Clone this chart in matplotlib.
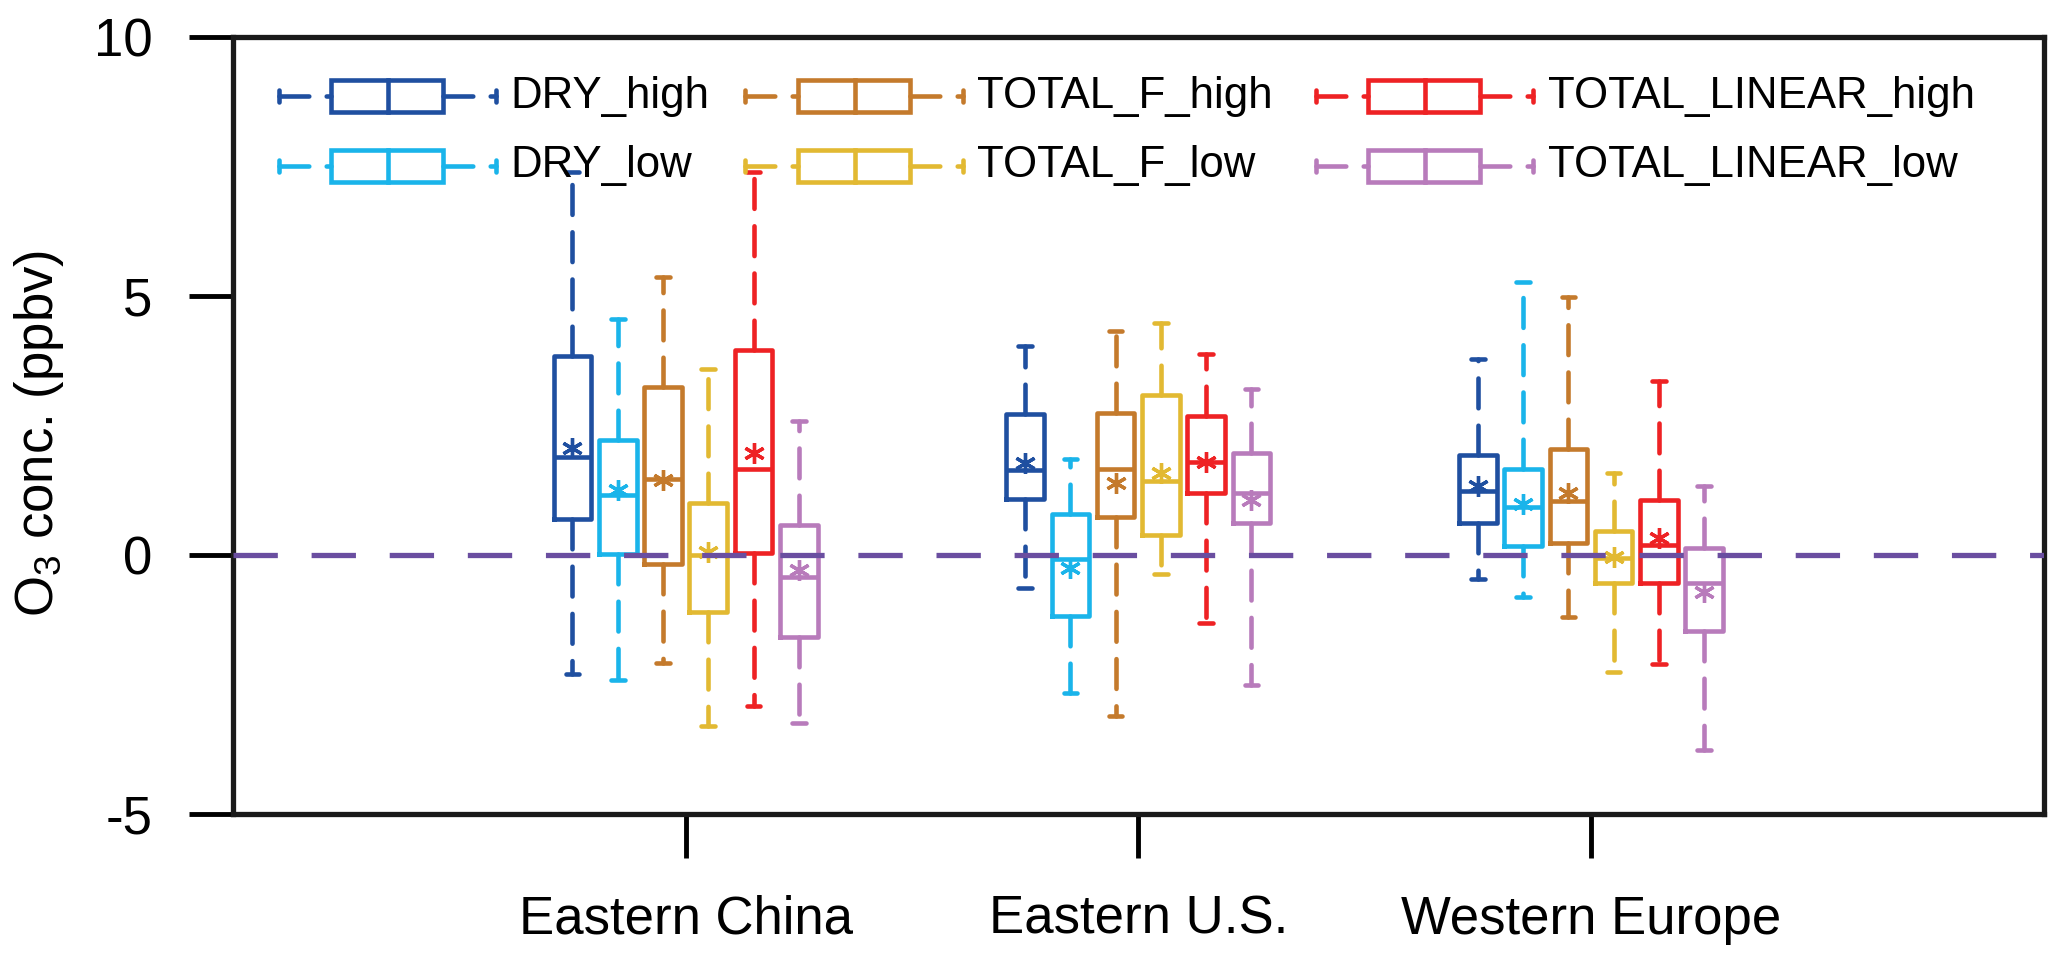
import matplotlib
matplotlib.use('Agg')
import matplotlib.pyplot as plt
from matplotlib.patches import Rectangle

plt.rcParams['font.family'] = ['Liberation Sans', 'DejaVu Sans']

regions = ['Eastern China', 'Eastern U.S.', 'Western Europe']
series = ['DRY_high', 'DRY_low', 'TOTAL_F_high', 'TOTAL_F_low',
          'TOTAL_LINEAR_high', 'TOTAL_LINEAR_low']
colors = ['#1f4fa0', '#1ab4ea', '#c47a2c', '#e2b932', '#ee2224', '#b87bbb']

# per series: values for [Eastern China, Eastern U.S., Western Europe]
whislo = [[-2.30, -0.63, -0.47],
          [-2.42, -2.67, -0.82],
          [-2.08, -3.11, -1.20],
          [-3.30, -0.37, -2.25],
          [-2.92, -1.31, -2.11],
          [-3.25, -2.51, -3.76]]
q1 = [[0.69, 1.09, 0.61],
      [0.02, -1.17, 0.18],
      [-0.18, 0.73, 0.24],
      [-1.10, 0.39, -0.55],
      [0.04, 1.19, -0.55],
      [-1.58, 0.61, -1.46]]
med = [[1.89, 1.65, 1.23],
       [1.16, -0.07, 0.92],
       [1.47, 1.66, 1.05],
       [0.00, 1.43, -0.05],
       [1.66, 1.79, 0.20],
       [-0.42, 1.20, -0.55]]
q3 = [[3.84, 2.73, 1.94],
      [2.22, 0.80, 1.67],
      [3.25, 2.74, 2.04],
      [1.01, 3.09, 0.47],
      [3.96, 2.68, 1.07],
      [0.58, 1.97, 0.13]]
whishi = [[7.40, 4.04, 3.79],
          [4.56, 1.86, 5.28],
          [5.37, 4.32, 4.99],
          [3.60, 4.48, 1.59],
          [7.40, 3.88, 3.35],
          [2.59, 3.20, 1.34]]
means = [[2.07, 1.77, 1.34],
         [1.25, -0.26, 0.99],
         [1.45, 1.39, 1.19],
         [0.05, 1.58, -0.03],
         [1.97, 1.80, 0.32],
         [-0.29, 1.06, -0.72]]

fig = plt.figure(figsize=(20.67, 9.64), dpi=100)
ax = fig.add_axes([0.1127, 0.1556, 0.876, 0.806])

lw = 3.3
dash = (0, (6.5, 3.8))
offsets = [-0.25, -0.15, -0.05, 0.05, 0.15, 0.25]

ax.axhline(0, color='#6a4ea0', lw=3.8, linestyle=(0, (8.4, 6.4)), zorder=4)

for i, name in enumerate(series):
    c = colors[i]
    stats = []
    for j in range(len(regions)):
        stats.append(dict(whislo=whislo[i][j], q1=q1[i][j], med=med[i][j],
                          q3=q3[i][j], whishi=whishi[i][j], mean=means[i][j],
                          fliers=[]))
    pos = [j + 1 + offsets[i] for j in range(len(regions))]
    ax.bxp(stats, positions=pos, widths=0.083, capwidths=0.03,
           showmeans=True, showfliers=False, manage_ticks=False,
           boxprops=dict(color=c, lw=lw),
           medianprops=dict(color=c, lw=lw),
           whiskerprops=dict(color=c, lw=lw, linestyle=dash,
                             dash_capstyle='round'),
           capprops=dict(color=c, lw=lw, solid_capstyle='round'),
           meanprops=dict(marker=(6, 2, 0), markersize=15,
                          markeredgecolor=c, markeredgewidth=2.4,
                          linestyle='none'))

# legend drawn as small horizontal box symbols
col_x = [0.0253, 0.283, 0.598]
row_y = [0.924, 0.834]
for i, name in enumerate(series):
    c = colors[i]
    x0 = col_x[i // 2]
    y0 = row_y[i % 2]
    tr = ax.transAxes
    ax.plot([x0, x0 + 0.029], [y0, y0], color=c, lw=lw, linestyle=dash,
            dash_capstyle='round', transform=tr)
    ax.plot([x0 + 0.0907, x0 + 0.12], [y0, y0], color=c, lw=lw,
            linestyle=dash, dash_capstyle='round', transform=tr)
    ax.plot([x0, x0], [y0 - 0.008, y0 + 0.008], color=c, lw=lw,
            solid_capstyle='round', transform=tr)
    ax.plot([x0 + 0.12, x0 + 0.12], [y0 - 0.008, y0 + 0.008], color=c,
            lw=lw, solid_capstyle='round', transform=tr)
    ax.add_patch(Rectangle((x0 + 0.029, y0 - 0.0206), 0.0617, 0.0412,
                           fill=False, edgecolor=c, lw=lw, transform=tr))
    ax.plot([x0 + 0.0605, x0 + 0.0605], [y0 - 0.0206, y0 + 0.0206],
            color=c, lw=lw, transform=tr)
    ax.text(x0 + 0.128, y0, name, fontsize=31.5, va='center', ha='left',
            transform=tr)

ax.set_xlim(0, 4)
ax.set_ylim(-5, 10)
ax.set_xticks([1, 2, 3])
ax.set_xticklabels(regions)
ax.set_yticks([-5, 0, 5, 10])
ax.set_yticklabels(['-5', '0', '5', '10'])
ax.tick_params(axis='both', direction='out', length=32, width=3.5,
               labelsize=38, pad=26)
for s in ax.spines.values():
    s.set_linewidth(3.8)
    s.set_color('#1a1a1a')

ax.set_ylabel(r'O$_{\mathregular{3}}$ conc. (ppbv)', fontsize=38)
ax.yaxis.set_label_coords(-0.092, 0.49)

fig.savefig('out.png', dpi=100)
